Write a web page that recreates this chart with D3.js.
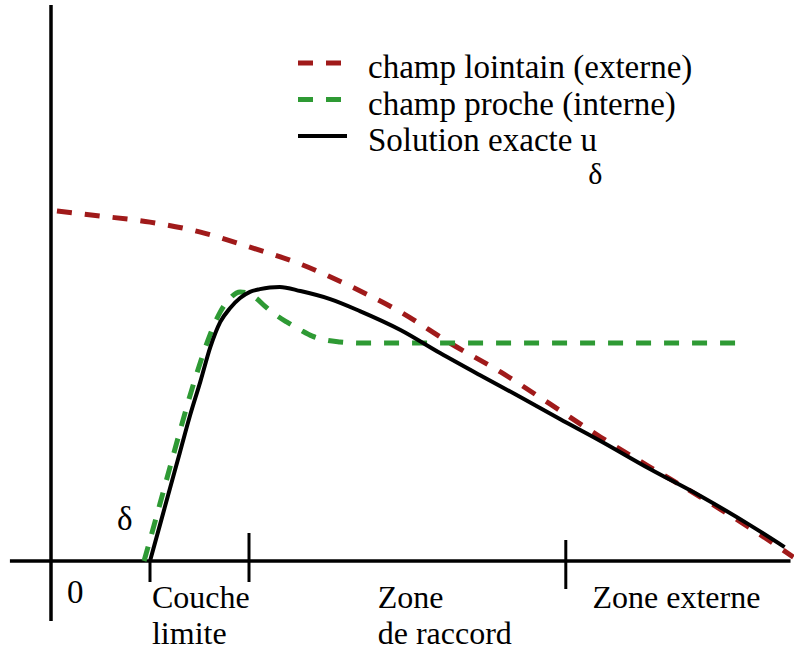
<!DOCTYPE html>
<html>
<head>
<meta charset="utf-8">
<script src="https://cdn.jsdelivr.net/npm/d3@7"></script>
</head>
<body style="margin:0">
<svg id="chart" width="794" height="655"></svg>
<script>
// Abscissa in units of the boundary-layer thickness delta, ordinate in arbitrary units.
const farX   = [0.06, 0.50, 1.00, 1.51, 2.01, 2.52, 3.02, 3.53, 4.03, 4.54, 5.04, 5.55, 6.05, 6.56, 7.06, 7.50];
const farY   = [1.259, 1.241, 1.219, 1.183, 1.129, 1.068, 0.989, 0.896, 0.784, 0.680, 0.565, 0.446, 0.338, 0.230, 0.119, 0.014];

const nearX  = [0.94, 1.00, 1.10, 1.20, 1.30, 1.40, 1.51, 1.61, 1.71, 1.81, 1.91, 1.99, 2.07, 2.16, 2.26, 2.38, 2.52, 2.64, 2.77, 2.92, 3.12, 6.96];
const nearY  = [0.000, 0.076, 0.205, 0.335, 0.464, 0.590, 0.716, 0.817, 0.896, 0.946, 0.968, 0.964, 0.946, 0.917, 0.888, 0.860, 0.831, 0.809, 0.795, 0.788, 0.784, 0.784];

const exactX = [1.00, 1.10, 1.20, 1.30, 1.40, 1.51, 1.61, 1.71, 1.81, 1.91, 2.01, 2.11, 2.21, 2.31, 2.52, 2.82, 3.12, 3.53, 3.93, 4.33, 4.74, 5.14, 5.55, 6.05, 6.56, 7.06, 7.41];
const exactY = [0.000, 0.129, 0.259, 0.388, 0.518, 0.647, 0.770, 0.860, 0.910, 0.946, 0.968, 0.978, 0.984, 0.986, 0.971, 0.942, 0.899, 0.831, 0.748, 0.669, 0.590, 0.511, 0.432, 0.331, 0.234, 0.129, 0.050];

// Axis marks: delta, end of the boundary layer, end of the matching zone
const tickValues = [1, 2, 5.2];
const zoneLabels = [
  { x: 1.02, lines: ["Couche", "limite"] },
  { x: 3.30, lines: ["Zone", "de raccord"] },
  { x: 5.47, lines: ["Zone externe"] }
];
const legendItems = [
  { label: "champ lointain (externe)", key: "far" },
  { label: "champ proche (interne)", key: "near" },
  { label: "Solution exacte u", sub: "δ", key: "exact" }
];

const styles = {
  far:   { stroke: "#a01a1a", width: 5, dash: "15,13" },
  near:  { stroke: "#2e9a34", width: 5, dash: "15,13" },
  exact: { stroke: "#000000", width: 4, dash: null }
};

const serifFamily = "Liberation Serif";
const fs = 33;

const svg = d3.select("#chart");
svg.append("rect").attr("width", 794).attr("height", 655).attr("fill", "#fff");

const x = d3.scaleLinear().domain([0, 7.5]).range([51, 793.5]);
const y = d3.scaleLinear().domain([0, 2]).range([561, 5]);

// Axes
svg.append("line")
  .attr("x1", x(-0.415)).attr("x2", x(7.47))
  .attr("y1", y(0)).attr("y2", y(0))
  .attr("stroke", "#000").attr("stroke-width", 3.5);
svg.append("line")
  .attr("x1", x(0)).attr("x2", x(0))
  .attr("y1", y(2)).attr("y2", y(-0.216))
  .attr("stroke", "#000").attr("stroke-width", 3.5);

// Ticks: delta only below the axis, zone boundaries on both sides
const tickExtent = [[0, 21], [28, 21], [21, 28]];
svg.selectAll("line.tick").data(tickValues).join("line")
  .attr("class", "tick")
  .attr("x1", d => x(d)).attr("x2", d => x(d))
  .attr("y1", (d, i) => y(0) - tickExtent[i][0])
  .attr("y2", (d, i) => y(0) + tickExtent[i][1])
  .attr("stroke", "#000").attr("stroke-width", 3);

// Curves
const line = d3.line().x(d => x(d[0])).y(d => y(d[1])).curve(d3.curveMonotoneX);
const series = [
  { key: "far",   pts: d3.zip(farX, farY) },
  { key: "near",  pts: d3.zip(nearX, nearY) },
  { key: "exact", pts: d3.zip(exactX, exactY) }
];
svg.selectAll("path.curve").data(series).join("path")
  .attr("class", "curve")
  .attr("d", d => line(d.pts))
  .attr("fill", "none")
  .attr("stroke", d => styles[d.key].stroke)
  .attr("stroke-width", d => styles[d.key].width)
  .attr("stroke-dasharray", d => styles[d.key].dash)
  .attr("stroke-linejoin", "round");

function addText(sel, px, py, s, size) {
  return sel.append("text")
    .attr("x", px).attr("y", py)
    .attr("font-family", serifFamily)
    .attr("font-size", size || fs)
    .style("font-family", serifFamily)
    .attr("fill", "#000")
    .text(s);
}

// Axis labels
addText(svg, x(0) + 16, 603, "0");
addText(svg, x(1) - 33, 530, "δ");

// Zone names under the axis (two-line labels stacked)
zoneLabels.forEach(z => {
  z.lines.forEach((s, i) => addText(svg, x(z.x), 608 + i * 36, s, 32));
});

// Legend
const lg = svg.append("g").attr("transform", "translate(298,63)");
legendItems.forEach((d, i) => {
  const st = styles[d.key];
  const row = lg.append("g").attr("transform", `translate(0,${i * 36.5})`);
  row.append("line")
    .attr("x1", 0).attr("x2", 49).attr("y1", 0).attr("y2", 0)
    .attr("stroke", st.stroke).attr("stroke-width", st.width)
    .attr("stroke-dasharray", st.dash);
  const t = addText(row, 70, 15, d.label);
  if (d.sub) {
    t.append("tspan").attr("dx", -9).attr("dy", 33).attr("font-size", 30).text(d.sub);
  }
});
</script>
</body>
</html>
